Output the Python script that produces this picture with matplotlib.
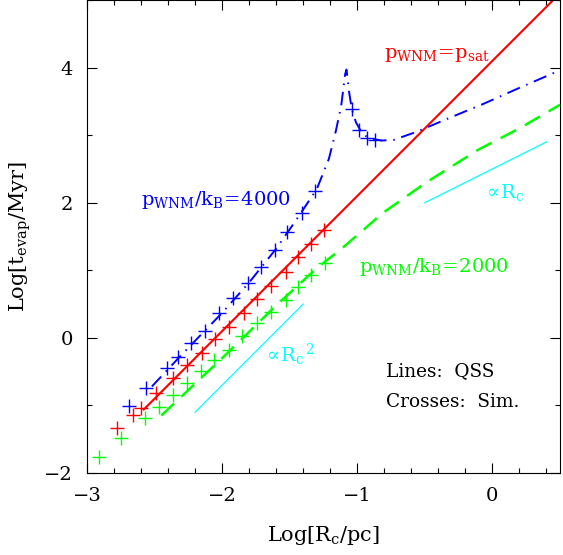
import numpy as np
import matplotlib
matplotlib.use("Agg")
import matplotlib.pyplot as plt
from matplotlib.ticker import MultipleLocator

plt.rcParams['font.family'] = ['DejaVu Serif']
plt.rcParams['mathtext.fontset'] = 'dejavuserif'

# QSS model lines (Log R_c [pc], Log t_evap [Myr])
red_x = [-2.58, -1.5, 0.0, 0.5]
red_y = [-1.06, 1.10, 4.10, 5.10]

blue_x = [-2.52, -2.3, -2.0, -1.8, -1.6, -1.45, -1.3, -1.21, -1.16, -1.12, -1.09, -1.08,
          -1.06, -1.04, -1.01, -0.96, -0.9, -0.82, -0.73, -0.56, -0.3, -0.07, 0.2, 0.5]
blue_y = [-0.72, -0.25, 0.37, 0.82, 1.32, 1.75, 2.2, 2.65, 3.05, 3.42, 3.9, 3.97,
          3.63, 3.38, 3.19, 3.01, 2.95, 2.92, 2.93, 3.05, 3.27, 3.46, 3.7, 3.96]

green_x = [-2.45, -2.0, -1.6, -1.3, -1.11, -0.81, -0.49, -0.1, 0.2, 0.5]
green_y = [-1.15, -0.30, 0.48, 1.03, 1.33, 1.85, 2.30, 2.79, 3.10, 3.45]

# reference slopes
rc2_x = [-2.2, -1.4]
rc2_y = [-1.1, 0.5]
rc1_x = [-0.5, 0.4]
rc1_y = [2.0, 2.9]

# simulation crosses
sim_red_x = [-2.78, -2.66, -2.60, -2.49, -2.36, -2.26, -2.15, -2.05, -1.95, -1.84,
             -1.74, -1.64, -1.53, -1.44, -1.34, -1.25]
sim_red_y = [-1.33, -1.14, -1.04, -0.81, -0.59, -0.40, -0.22, -0.01, 0.16, 0.37,
             0.58, 0.77, 0.98, 1.19, 1.39, 1.59]

sim_blue_x = [-2.69, -2.56, -2.41, -2.33, -2.23, -2.13, -2.02, -1.92, -1.81, -1.71,
              -1.61, -1.52, -1.41, -1.31, -1.04, -0.99, -0.93, -0.87]
sim_blue_y = [-1.01, -0.74, -0.44, -0.28, -0.07, 0.10, 0.37, 0.59, 0.81, 1.05,
              1.30, 1.57, 1.85, 2.18, 3.38, 3.08, 2.96, 2.93]

sim_green_x = [-2.91, -2.75, -2.57, -2.47, -2.36, -2.26, -2.16, -2.06, -1.95, -1.85,
               -1.74, -1.64, -1.53, -1.44, -1.34, -1.24]
sim_green_y = [-1.76, -1.48, -1.19, -1.02, -0.84, -0.67, -0.49, -0.33, -0.18, 0.03,
               0.22, 0.39, 0.56, 0.76, 0.93, 1.11]

RED, BLUE, GREEN, CYAN = '#ff0000', '#0000ff', '#00ff00', '#00ffff'

fig = plt.figure(figsize=(5.63, 5.55), dpi=100)
ax = fig.add_axes([87/563, 82/555, 473/563, 473/555])

ax.plot(red_x, red_y, color=RED, lw=1.5)
ax.plot(blue_x, blue_y, color=BLUE, lw=1.4, dashes=(7, 3.5, 0.8, 3.5))
ax.plot(green_x, green_y, color=GREEN, lw=1.8, dashes=(7, 4))
ax.plot(rc2_x, rc2_y, color=CYAN, lw=0.9)
ax.plot(rc1_x, rc1_y, color=CYAN, lw=0.9)

ms = 10
ax.plot(sim_red_x, sim_red_y, ls='none', marker='+', ms=ms, mew=1.0, color=RED)
ax.plot(sim_blue_x, sim_blue_y, ls='none', marker='+', ms=ms, mew=1.0, color=BLUE)
ax.plot(sim_green_x, sim_green_y, ls='none', marker='+', ms=ms, mew=1.0, color=GREEN)

fs = 14
ax.text(-0.80, 4.19, r'$\mathrm{p_{WNM}\!=\!p_{sat}}$', color=RED, fontsize=fs, va='center')
ax.text(-2.60, 2.04, r'$\mathrm{p_{WNM}/k_B\!=\!4000}$', color=BLUE, fontsize=fs, va='center')
ax.text(-0.99, 1.05, r'$\mathrm{p_{WNM}/k_B\!=\!2000}$', color=GREEN, fontsize=fs, va='center')
ax.text(-0.07, 2.15, r'$\propto\!\mathrm{R_c}$', color=CYAN, fontsize=fs, va='center')
ax.text(-1.70, -0.25, r'$\propto\!\mathrm{R_c}^{\,2}$', color=CYAN, fontsize=fs, va='center')
ax.text(-0.79, -0.50, 'Lines:  QSS', fontsize=13.3, va='center')
ax.text(-0.79, -0.95, 'Crosses:  Sim.', fontsize=13.3, va='center')

ax.set_xlim(-3.0, 0.5)
ax.set_ylim(-2.0, 5.0)
ax.xaxis.set_major_locator(MultipleLocator(1))
ax.xaxis.set_minor_locator(MultipleLocator(0.2))
ax.yaxis.set_major_locator(MultipleLocator(2))
ax.yaxis.set_minor_locator(MultipleLocator(1))
ax.tick_params(which='both', direction='in', top=True, right=True, labelsize=14)
ax.tick_params(which='major', length=7, width=0.8, pad=10)
ax.tick_params(which='minor', length=3.5, width=0.8)
for s in ax.spines.values():
    s.set_linewidth(0.8)

ax.set_xlabel(r'$\mathrm{Log[R_c/pc]}$', fontsize=15, labelpad=14)
ax.set_ylabel(r'$\mathrm{Log[t_{evap}/Myr]}$', fontsize=15, labelpad=8)

fig.savefig('out.png', dpi=100)
